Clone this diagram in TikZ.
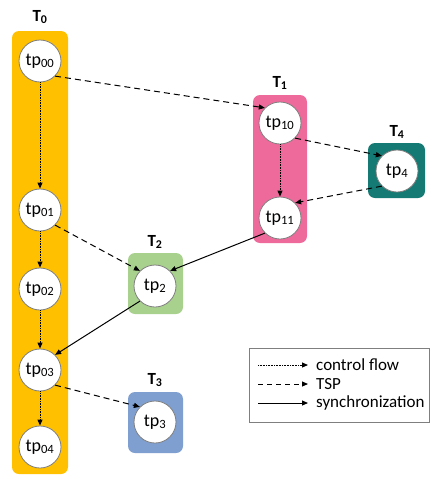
\documentclass[tikz,border=0pt]{standalone}
\usepackage{fontspec}
\setmainfont{Carlito}
\usetikzlibrary{arrows.meta}
\definecolor{cT0}{HTML}{FFC000}
\definecolor{cT1}{HTML}{EE6A9B}
\definecolor{cT2}{HTML}{A9D18E}
\definecolor{cT3}{HTML}{7E9FD0}
\definecolor{cT4}{HTML}{147A73}
\definecolor{ring}{HTML}{7F7F7F}
\tikzset{
  tp/.style={circle,draw=ring,line width=0.8pt,fill=white,minimum size=42pt,inner sep=0pt,
    font=\fontsize{18}{21}\selectfont},
  thread/.style={rounded corners=7pt,draw=none},
  tlabel/.style={font=\fontsize{17}{20}\selectfont\bfseries,inner sep=0pt},
  tip/.style={-{Triangle[length=6pt,width=5pt]}},
  cflow/.style={tip,line width=1pt,dash pattern=on 0.8pt off 0.8pt},
  tsp/.style={tip,line width=1pt,dash pattern=on 6pt off 4pt},
  sync/.style={tip,line width=1pt},
  legtext/.style={anchor=west,inner sep=0pt,font=\fontsize{17}{20}\selectfont}
}
\begin{document}
\begin{tikzpicture}[x=1pt,y=-1pt]
\useasboundingbox (0,0) rectangle (429,477);
% thread boxes
\fill[thread,cT0] (12,31) rectangle (68,474);
\fill[thread,cT1] (253,95) rectangle (307,243);
\fill[thread,cT4] (368,143) rectangle (425,198);
\fill[thread,cT2] (128,253) rectangle (183,314);
\fill[thread,cT3] (128,392) rectangle (183,453);
% labels
\node[tlabel] (L0) at (40,17) {T\textsubscript{0}};
\node[tlabel] (L1) at (280,83) {T\textsubscript{1}};
\node[tlabel] (L4) at (397,132) {T\textsubscript{4}};
\node[tlabel] (L2) at (155,242) {T\textsubscript{2}};
\node[tlabel] (L3) at (155,380) {T\textsubscript{3}};
% nodes
\node[tp] (tp00) at (40,61) {tp\textsubscript{00}};
\node[tp] (tp01) at (40,210) {tp\textsubscript{01}};
\node[tp] (tp02) at (40,289) {tp\textsubscript{02}};
\node[tp] (tp03) at (40,370) {tp\textsubscript{03}};
\node[tp] (tp04) at (40,447) {tp\textsubscript{04}};
\node[tp] (tp10) at (280,123) {tp\textsubscript{10}};
\node[tp] (tp11) at (280,218) {tp\textsubscript{11}};
\node[tp] (tp4) at (397,171) {tp\textsubscript{4}};
\node[tp] (tp2) at (155,286) {tp\textsubscript{2}};
\node[tp] (tp3) at (155,422) {tp\textsubscript{3}};
% control flow
\draw[cflow] (tp00) -- (tp01);
\draw[cflow] (tp01) -- (tp02);
\draw[cflow] (tp02) -- (tp03);
\draw[cflow] (tp03) -- (tp04);
\draw[cflow] (tp10) -- (tp11);
% TSP
\draw[tsp] (tp00.south east) -- (tp10.north west);
\draw[tsp] (tp01.south east) -- (tp2.north west);
\draw[tsp] (tp10.south east) -- (tp4.north west);
\draw[tsp] (tp4.south west) -- (tp11.north east);
\draw[tsp] (tp03.south east) -- (tp3.north west);
% synchronization
\draw[sync] (tp11.south west) -- (tp2.north east);
\draw[sync] (tp2.south west) -- (tp03.north east);
% legend
\node[draw=ring,line width=0.8pt,minimum width=180pt,minimum height=74pt,inner sep=0pt,anchor=north west] (leg) at (248.5,348) {};
\coordinate (a1) at (258,365); \coordinate (b1) at (308,365);
\coordinate (a2) at (258,384); \coordinate (b2) at (308,384);
\coordinate (a3) at (258,403); \coordinate (b3) at (308,403);
\draw[cflow] (a1) -- (b1);
\draw[tsp,dash pattern=on 5pt off 4pt] (a2) -- (b2);
\draw[sync] (a3) -- (b3);
\node[legtext] (t1) at (316,365) {control flow};
\node[legtext] (t2) at (316,384) {TSP};
\node[legtext] (t3) at (316,403) {synchronization};
\end{tikzpicture}
\end{document}
